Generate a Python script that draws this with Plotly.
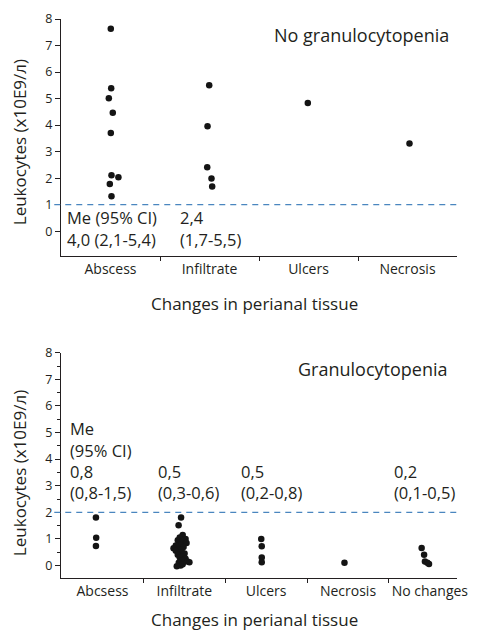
import plotly.graph_objects as go

# ---------------- data ----------------
top_categories = ["Abscess", "Infiltrate", "Ulcers", "Necrosis"]
top_values = {
    "Abscess": [7.63, 5.39, 5.01, 4.47, 3.70, 2.11, 2.03, 1.78, 1.32],
    "Infiltrate": [5.50, 3.96, 2.41, 1.99, 1.69],
    "Ulcers": [4.83],
    "Necrosis": [3.31],
}
top_jitter = {
    "Abscess": [0.003, 0.007, -0.017, 0.023, 0.003, 0.01, 0.08, -0.007, 0.01],
    "Infiltrate": [-0.003, -0.02, -0.023, 0.02, 0.027],
    "Ulcers": [-0.007],
    "Necrosis": [0.02],
}
top_threshold = 1
top_med_labels = [("Me (95% CI)", "4,0 (2,1-5,4)"), ("2,4", "(1,7-5,5)")]

bot_categories = ["Abcsess", "Infiltrate", "Ulcers", "Necrosis", "No changes"]
bot_values = {
    "Abcsess": [1.80, 1.04, 0.73],
    "Infiltrate": [1.80, 1.51, 1.15, 1.05, 1.00, 0.95, 0.90, 0.85, 0.80, 0.75, 0.70,
                   0.65, 0.60, 0.60, 0.55, 0.50, 0.45, 0.40, 0.35, 0.30, 0.25, 0.20,
                   0.15, 0.12, 0.10, 0.05, 0.00, -0.03],
    "Ulcers": [1.00, 0.72, 0.30, 0.12],
    "Necrosis": [0.10],
    "No changes": [0.66, 0.40, 0.15, 0.10, 0.06],
}
bot_jitter = {
    "Abcsess": [-0.08, -0.077, -0.08],
    "Infiltrate": [-0.04, -0.07, -0.02, -0.056, 0.015, -0.08, -0.02, 0.027, -0.056,
                   -0.104, -0.009, -0.132, -0.08, -0.033, -0.104, -0.045, 0.003, -0.08,
                   -0.02, -0.056, 0.015, -0.033, 0.039, 0.062, -0.068, -0.02, -0.045, -0.092],
    "Ulcers": [-0.06, -0.054, -0.054, -0.054],
    "Necrosis": [-0.043],
    "No changes": [-0.10, -0.07, -0.06, -0.03, -0.01],
}
bot_threshold = 2
bot_med_labels = [("Me", "(95% CI)", "0,8", "(0,8-1,5)"), ("0,5", "(0,3-0,6)"),
                  ("0,5", "(0,2-0,8)"), ("0,2", "(0,1-0,5)")]
y_ticks = [0, 1, 2, 3, 4, 5, 6, 7, 8]

# ---------------- figure ----------------
W, H = 478, 633
ML, MR, MT, MB = 61, 10, 18, 55
PH = H - MT - MB
INK = "#231f20"
DASH = "#4a86bf"
FONT = "Open Sans"


def frac(py):
    return (H - MB - py) / PH


fig = go.Figure()

for i, c in enumerate(top_categories):
    fig.add_trace(go.Scatter(
        x=[i + j for j in top_jitter[c]], y=top_values[c], mode="markers",
        marker=dict(size=6.5, color="#141414"), xaxis="x", yaxis="y",
        showlegend=False, hoverinfo="skip"))

for i, c in enumerate(bot_categories):
    fig.add_trace(go.Scatter(
        x=[i + j for j in bot_jitter[c]], y=bot_values[c], mode="markers",
        marker=dict(size=6.5, color="#141414"), xaxis="x2", yaxis="y2",
        showlegend=False, hoverinfo="skip"))

axis_common = dict(showline=True, linecolor=INK, linewidth=1, showgrid=False,
                   zeroline=False)
ytick_font = dict(family=FONT, size=12.5, color=INK)
xtick_font = dict(family=FONT, size=14, color=INK)

fig.update_layout(
    width=W, height=H, margin=dict(l=ML, r=MR, t=MT, b=MB),
    plot_bgcolor="white", paper_bgcolor="white",
    xaxis=dict(**axis_common, domain=[0, 1], range=[-0.5, 3.5],
               tickmode="array", tickvals=list(range(len(top_categories))),
               ticktext=top_categories, ticks="", anchor="y", tickfont=xtick_font,
               minor=dict(tickmode="array", tickvals=[0.5, 1.5, 2.5], ticks="outside",
                          ticklen=4, tickcolor=INK)),
    yaxis=dict(**axis_common, domain=[frac(255.3), 1], tickfont=ytick_font,
               range=[-0.93, 8], tickmode="array", tickvals=y_ticks,
               ticks="outside", ticklen=5, tickcolor=INK, anchor="x"),
    xaxis2=dict(**axis_common, domain=[0, 1], range=[-0.507, 4.332],
                tickmode="array", tickvals=list(range(len(bot_categories))),
                ticktext=bot_categories, ticks="", anchor="y2", tickfont=xtick_font,
                ticklabeloverflow="allow",
                minor=dict(tickmode="array", tickvals=[0.5, 1.5, 2.5, 3.5], ticks="outside",
                           ticklen=4, tickcolor=INK)),
    yaxis2=dict(**axis_common, domain=[0, frac(352.3)], range=[-0.47, 8],
                tickfont=ytick_font,
                tickmode="array", tickvals=y_ticks, ticks="outside", ticklen=5,
                tickcolor=INK, anchor="x2",
                minor=dict(tickmode="linear", tick0=0, dtick=0.5, ticks="outside",
                           ticklen=3, tickcolor=INK)),
)

# threshold lines
fig.add_shape(type="line", xref="paper", yref="y", x0=-0.017, x1=1,
              y0=top_threshold, y1=top_threshold,
              line=dict(color=DASH, width=1.3, dash="6px,5px"))
fig.add_shape(type="line", xref="paper", yref="y2", x0=-0.017, x1=1,
              y0=bot_threshold, y1=bot_threshold,
              line=dict(color=DASH, width=1.3, dash="6px,5px"))

ann_font = dict(family=FONT, size=16.5, color=INK)


def ann(text, x, y, xref, yref, **kw):
    d = dict(text=text, x=x, y=y, xref=xref, yref=yref, showarrow=False,
             font=kw.pop("font", ann_font), xanchor=kw.pop("xanchor", "left"),
             yanchor=kw.pop("yanchor", "middle"), borderpad=0)
    d.update(kw)
    fig.add_annotation(**d)


# top medians
top_lab_x = [-0.445, 0.69]
for xl, lines in zip(top_lab_x, top_med_labels):
    ann(lines[0], xl, 0.52, "x", "y")
    ann(lines[1], xl, -0.31, "x", "y")

# bottom medians
bot_lab_x = [-0.405, 0.665, 1.685, 3.55]
line_y = [5.15, 4.33, 3.54, 2.74]
for xl, lines in zip(bot_lab_x, bot_med_labels):
    ys = line_y[-len(lines):]
    for t, yv in zip(lines, ys):
        ann(t, xl, yv, "x2", "y2")

# panel titles
ann("No granulocytopenia", 362.5 / W, frac(34), "paper", "paper", xanchor="center",
    font=dict(family=FONT, size=18, color=INK))
ann("Granulocytopenia", 376 / W, frac(369), "paper", "paper", xanchor="center",
    font=dict(family=FONT, size=18, color=INK))

# axis titles
title_font = dict(family=FONT, size=17, color=INK)
xt = (259.5 - ML) / (W - ML - MR)
ann("Changes in perianal tissue", xt, frac(303), "paper", "paper", xanchor="center",
    font=title_font)
ann("Changes in perianal tissue", xt, frac(632.5), "paper", "paper", xanchor="center",
    yanchor="bottom", font=title_font)
yt_x = (18.3 - ML) / (W - ML - MR)
ann("Leukocytes (x10E9/л)", yt_x, frac(141), "paper", "paper", xanchor="center",
    textangle=-90, font=title_font)
ann("Leukocytes (x10E9/л)", yt_x, frac(472.5), "paper", "paper", xanchor="center",
    textangle=-90, font=title_font)

fig.write_html("out.html")
